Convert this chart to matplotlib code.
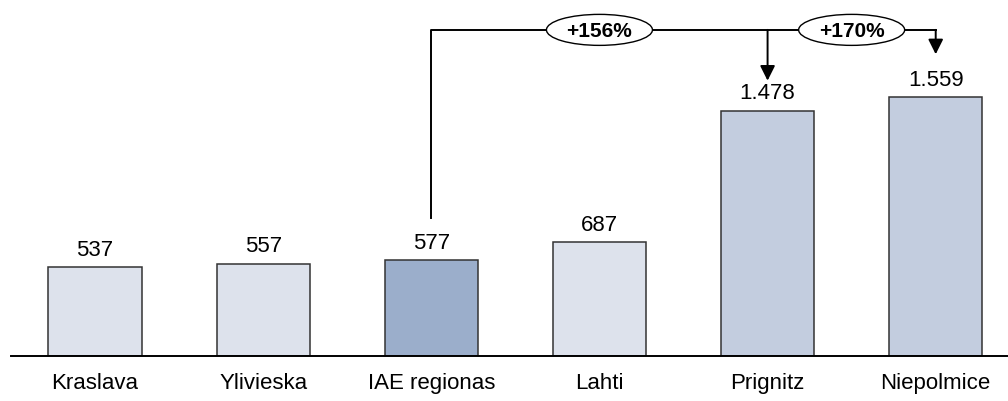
import numpy as np
import matplotlib
matplotlib.use('Agg')
import matplotlib.pyplot as plt
from matplotlib.patches import Ellipse
from matplotlib.transforms import ScaledTranslation

# データ
categories = ['Kraslava', 'Ylivieska', 'IAE regionas', 'Lahti', 'Prignitz', 'Niepolmice']
values = [537, 557, 577, 687, 1478, 1559]
colors = ['#DDE2EC', '#DDE2EC', '#9BAECB', '#DDE2EC', '#C3CDDF', '#C3CDDF']

# 比較の基準と対象
base_idx = 2
target_idx = [4, 5]

plt.rcParams['font.family'] = ['Liberation Sans', 'DejaVu Sans']

fig = plt.figure(figsize=(10.08, 4.01), dpi=100)
ax = fig.add_axes([11/1008, 45/401, 997/1008, 356/401])

x = np.arange(len(categories))
ax.bar(x, values, width=0.555, color=colors, edgecolor='#333333', linewidth=1.1, zorder=2)

# 値ラベル (1.478 のように点区切り)
for xi, v in zip(x, values):
    ax.annotate(f'{v:,}'.replace(',', '.'), (xi, v), xytext=(0, 4.5), textcoords='offset points',
                ha='center', va='bottom', fontsize=16)

ax.set_xlim(-0.5, 5.43)
ax.set_ylim(0, 2145)
ax.set_xticks(x)
ax.set_xticklabels(categories, fontsize=16)
ax.tick_params(axis='x', length=0, pad=12)
ax.set_yticks([])
for s in ['left', 'right', 'top']:
    ax.spines[s].set_visible(False)
ax.spines['bottom'].set_linewidth(1.4)
ax.spines['bottom'].set_color('black')

# 増加率のブラケット
line_y = 1965
base_v = values[base_idx]
lw = 1.4
ax.plot([base_idx, base_idx, target_idx[-1]], [base_v + 254, line_y, line_y],
        color='black', lw=lw, zorder=1)
tip_gap = [181, 259]
for t, g in zip(target_idx, tip_gap):
    ax.annotate('', xy=(t, values[t] + g), xytext=(t, line_y),
                arrowprops=dict(arrowstyle='-|>,head_length=0.9,head_width=0.45',
                                color='black', lw=lw, shrinkA=0, shrinkB=0))

# 楕円ラベル
prev = base_idx
for t in target_idx:
    pct = round((values[t] / base_v - 1) * 100)
    cx = (prev + t) / 2
    trans = fig.dpi_scale_trans + ScaledTranslation(cx, line_y, ax.transData)
    ax.add_patch(Ellipse((0, 0), 1.06, 0.31, transform=trans, fc='white', ec='black',
                         lw=1.0, zorder=3))
    ax.text(cx, line_y, f'+{pct}%', ha='center', va='center_baseline',
            fontsize=15, fontweight='bold', zorder=4)
    prev = t

fig.savefig('out.png', dpi=100)
